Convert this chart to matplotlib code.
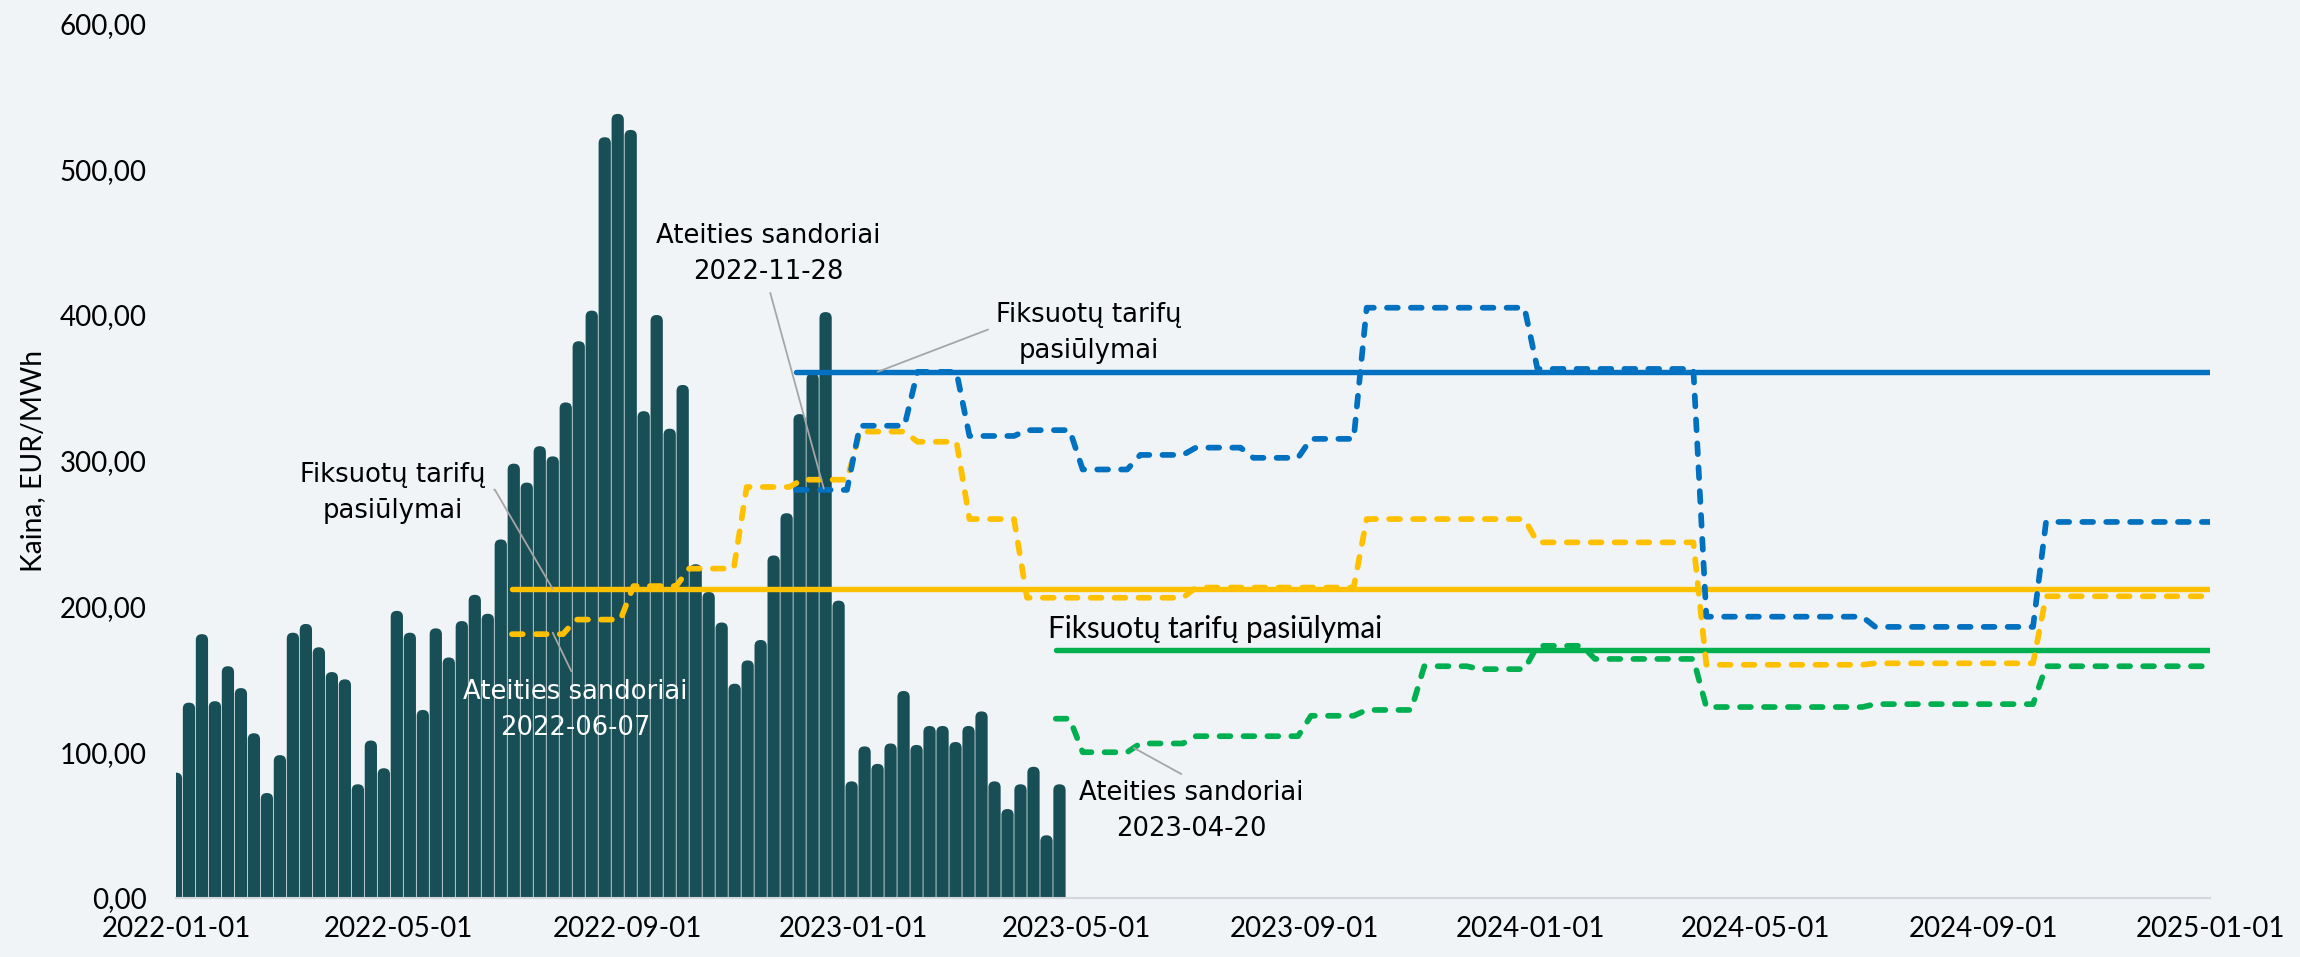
import matplotlib
matplotlib.use("Agg")
import matplotlib.pyplot as plt
import matplotlib.dates as mdates
from matplotlib.patches import FancyBboxPatch
from matplotlib.ticker import FuncFormatter, MultipleLocator
import pandas as pd

# -----------------------------------------------------------
# Duomenys
# -----------------------------------------------------------
# savaitinės rinkos kainos, EUR/MWh (savaitės nuo 2022-01-01)
savaiciu_pradzia = "2022-01-01"
savaitines_kainos = [
    86, 134, 181, 135, 159, 144, 113, 72, 98, 182, 188, 172, 155, 150, 78,
    108, 89, 197, 182, 129, 185, 165, 190, 208, 195, 246, 298, 285, 310, 303,
    340, 382, 403, 522, 538, 527, 334, 400, 322, 352, 229, 210, 189, 147, 163,
    177, 235, 264, 332, 360, 402, 204, 80, 104, 92, 106, 142, 105, 118, 118,
    107, 118, 128, 80, 61, 78, 90, 43, 78,
]

# ateities sandoriai (mėnesinės kainos)
ateitis_0607_nuo = "2022-07-01"
ateitis_0607 = [181, 191, 214, 226, 282, 287, 320, 313, 260, 206, 206, 206,
                213, 213, 213, 260, 260, 260, 244, 244, 244, 160, 160, 160,
                161, 161, 161, 207, 207, 207]

ateitis_1128_nuo = "2022-12-01"
ateitis_1128 = [280, 324, 361, 317, 321, 294, 304, 309, 302, 315, 405, 405,
                405, 363, 363, 363, 193, 193, 193, 186, 186, 186, 258, 258, 258]

ateitis_0420_nuo = "2023-04-20"
ateitis_0420 = [123, 100, 106, 111, 111, 125, 129, 159, 157, 173, 164, 164,
                131, 131, 131, 133, 133, 133, 159, 159, 159]

# fiksuotų tarifų pasiūlymai
fiksuotas_0607, fiksuotas_0607_nuo = 212, "2022-07-01"
fiksuotas_1128, fiksuotas_1128_nuo = 361, "2022-12-01"
fiksuotas_0420, fiksuotas_0420_nuo = 170, "2023-04-20"
pabaiga = "2025-01-01"

# -----------------------------------------------------------
# Spalvos
# -----------------------------------------------------------
fonas = "#F0F4F7"
stulpeliai = "#184E56"
geltona = "#FFC000"
melyna = "#0070C0"
zalia = "#00B050"
pilka = "#A6A6A6"

plt.rcParams['font.family'] = ['Lato', 'DejaVu Sans']


def menesine_kreive(nuo, reiksmes, perejimas=3.5):
    """Mėnesinės reikšmės -> laužtė su trumpais perėjimais tarp mėnesių."""
    pradzia = pd.Timestamp(nuo)
    menesiai = pd.date_range(pradzia.to_period("M").to_timestamp(),
                             periods=len(reiksmes) + 1, freq="MS")
    d = pd.Timedelta(days=perejimas)
    x, y = [], []
    for i, v in enumerate(reiksmes):
        a = pradzia if i == 0 else menesiai[i] + d
        b = menesiai[i + 1] if i == len(reiksmes) - 1 else menesiai[i + 1] - d
        x += [a, b]
        y += [v, v]
    return x, y


fig = plt.figure(figsize=(23, 9.57), dpi=100, facecolor=fonas)
ax = fig.add_axes([0.0765, 0.0617, 0.8845, 0.9137])
ax.set_facecolor(fonas)
ax.set_xlim(pd.Timestamp("2022-01-01"), pd.Timestamp("2025-01-01"))
ax.set_ylim(0, 600)

# stulpeliai (suapvalintomis viršūnėmis)
savaites = pd.date_range(savaiciu_pradzia, periods=len(savaitines_kainos), freq="7D")
juostos = ax.bar(savaites, savaitines_kainos, width=6.6, color=stulpeliai, zorder=2)
for r in juostos:
    r.set_visible(False)
    apacia = -10  # žemiau ašies, nukerpama
    ax.add_patch(FancyBboxPatch((r.get_x(), apacia), r.get_width(),
                                r.get_height() - apacia,
                                boxstyle="round,pad=0,rounding_size=3.2",
                                mutation_aspect=1.28, facecolor=stulpeliai,
                                edgecolor="none", zorder=2))

# fiksuoti tarifai
for v, nuo, sp in [(fiksuotas_0607, fiksuotas_0607_nuo, geltona),
                   (fiksuotas_1128, fiksuotas_1128_nuo, melyna),
                   (fiksuotas_0420, fiksuotas_0420_nuo, zalia)]:
    ax.plot([pd.Timestamp(nuo), pd.Timestamp(pabaiga)], [v, v], color=sp,
            lw=3.9, solid_capstyle="round", zorder=4)

# ateities sandoriai
for nuo, reiksmes, sp in [(ateitis_0607_nuo, ateitis_0607, geltona),
                          (ateitis_1128_nuo, ateitis_1128, melyna),
                          (ateitis_0420_nuo, ateitis_0420, zalia)]:
    x, y = menesine_kreive(nuo, reiksmes)
    ax.plot(x, y, color=sp, lw=4.1, dashes=(1.9, 2.3),
            dash_capstyle="round", solid_joinstyle="round", zorder=5)

# -----------------------------------------------------------
# Užrašai
# -----------------------------------------------------------
tekstas = dict(fontsize=18.6, family="DejaVu Sans", ha="center", va="center",
               linespacing=1.5, zorder=6)
rodykle = dict(arrowstyle="-", color=pilka, lw=1.3, shrinkA=4, shrinkB=0)

ax.annotate("Fiksuotų tarifų\npasiūlymai",
            xy=(pd.Timestamp("2022-07-23"), fiksuotas_0607),
            xytext=(pd.Timestamp("2022-04-28"), 278),
            arrowprops=dict(rodykle, relpos=(1.0, 0.55),
                            connectionstyle="arc,angleA=0,armA=9,angleB=0,armB=0,rad=0"),
            color="black", **tekstas)

ax.annotate("Ateities sandoriai\n2022-06-07",
            xy=(pd.Timestamp("2022-07-23"), 182),
            xytext=(pd.Timestamp("2022-08-04"), 129),
            arrowprops=dict(rodykle, relpos=(0.5, 1.0)),
            color="white", **tekstas)

ax.annotate("Ateities sandoriai\n2022-11-28",
            xy=(pd.Timestamp("2022-12-16"), 281),
            xytext=(pd.Timestamp("2022-11-16"), 442),
            arrowprops=dict(rodykle, relpos=(0.5, 0.0)),
            color="black", **tekstas)

ax.annotate("Fiksuotų tarifų\npasiūlymai",
            xy=(pd.Timestamp("2023-01-14"), fiksuotas_1128),
            xytext=(pd.Timestamp("2023-05-08"), 388),
            arrowprops=dict(rodykle, relpos=(0.0, 0.55),
                            connectionstyle="arc,angleA=180,armA=8,angleB=0,armB=0,rad=0"),
            color="black", **tekstas)

ax.text(pd.Timestamp("2023-07-15"), 184.5, "Fiksuotų tarifų pasiūlymai",
        color="black", fontsize=21.3, ha="center", va="center", zorder=6)

ax.annotate("Ateities sandoriai\n2023-04-20",
            xy=(pd.Timestamp("2023-06-01"), 103),
            xytext=(pd.Timestamp("2023-07-02"), 60),
            arrowprops=dict(rodykle, relpos=(0.5, 1.0)),
            color="black", **tekstas)

# -----------------------------------------------------------
# Ašys
# -----------------------------------------------------------
ax.xaxis.set_major_locator(mdates.MonthLocator(bymonth=[1, 5, 9]))
ax.xaxis.set_major_formatter(mdates.DateFormatter("%Y-%m-%d"))
ax.yaxis.set_major_locator(MultipleLocator(100))
ax.yaxis.set_major_formatter(FuncFormatter(lambda v, p: f"{v:.2f}".replace(".", ",")))
ax.tick_params(axis="both", length=0, labelsize=20, colors="black")
ax.tick_params(axis="x", pad=13)
ax.tick_params(axis="y", pad=21)

for s in ["top", "right", "left"]:
    ax.spines[s].set_visible(False)
ax.spines["bottom"].set_color("#D4D8DC")
ax.spines["bottom"].set_linewidth(1.5)
ax.spines["bottom"].set_zorder(3)

ax.set_ylabel("Kaina, EUR/MWh", fontsize=20.3)
ax.yaxis.set_label_coords(-0.064, 0.5)

fig.savefig("out.png", dpi=100, facecolor=fonas)
